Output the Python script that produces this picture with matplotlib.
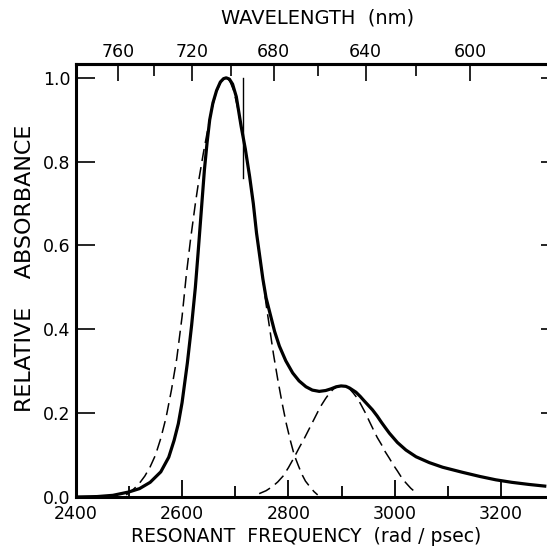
import numpy as np
import matplotlib
matplotlib.use('Agg')
from matplotlib import pyplot as plt
from matplotlib.ticker import MultipleLocator, NullFormatter, FixedLocator

# solid: measured absorbance
freq = [2400, 2440, 2470, 2500, 2520, 2540, 2560, 2575, 2585, 2593, 2600, 2610,
        2618, 2625, 2630, 2636, 2642, 2647, 2652, 2658, 2665, 2672, 2678, 2683,
        2689, 2695, 2702, 2711, 2719, 2727, 2734, 2740, 2746, 2752, 2758, 2765,
        2774, 2783, 2795, 2808, 2820, 2833, 2845, 2858, 2870, 2880, 2890, 2899,
        2908, 2915, 2927, 2935, 2942, 2950, 2958, 2967, 2975, 2983, 2990, 3005,
        3021, 3040, 3065, 3090, 3127, 3160, 3190, 3220, 3252, 3282]
absorb = [0.0, 0.001, 0.004, 0.012, 0.02, 0.035, 0.06, 0.095, 0.135, 0.175, 0.225, 0.32,
          0.41, 0.50, 0.58, 0.68, 0.78, 0.845, 0.90, 0.94, 0.97, 0.99, 0.998, 1.0,
          0.997, 0.985, 0.955, 0.885, 0.83, 0.765, 0.70, 0.63, 0.575, 0.52, 0.475, 0.44,
          0.395, 0.36, 0.325, 0.296, 0.277, 0.263, 0.255, 0.252, 0.254, 0.258, 0.263, 0.265,
          0.264, 0.26, 0.25, 0.24, 0.23, 0.219, 0.208, 0.193, 0.178, 0.164, 0.152, 0.13,
          0.112, 0.096, 0.082, 0.071, 0.059, 0.049, 0.041, 0.035, 0.030, 0.026]

# dashed: first component
freq1 = [2495, 2510, 2520, 2530, 2540, 2550, 2560, 2570, 2580, 2590, 2600, 2608,
         2616, 2625, 2632, 2640, 2648, 2655, 2662, 2670, 2676, 2683, 2690, 2697,
         2704, 2711, 2719, 2727, 2734, 2740, 2746, 2752, 2758, 2765, 2772, 2780,
         2788, 2796, 2804, 2811, 2818, 2825, 2832, 2840, 2848, 2855]
comp1 = [0.005, 0.02, 0.033, 0.05, 0.072, 0.10, 0.14, 0.19, 0.255, 0.33, 0.43, 0.53,
         0.615, 0.70, 0.76, 0.82, 0.875, 0.92, 0.955, 0.983, 0.996, 1.00, 0.992, 0.97,
         0.932, 0.885, 0.828, 0.765, 0.70, 0.63, 0.575, 0.52, 0.46, 0.40, 0.34, 0.28,
         0.225, 0.175, 0.133, 0.10, 0.077, 0.055, 0.038, 0.025, 0.013, 0.005]

# dashed: second component
freq2 = [2745, 2758, 2770, 2780, 2790, 2800, 2811, 2820, 2830, 2840, 2850, 2860,
         2870, 2878, 2885, 2892, 2900, 2907, 2915, 2922, 2930, 2937, 2945, 2952,
         2960, 2967, 2975, 2982, 2990, 2997, 3005, 3012, 3020, 3030, 3040]
comp2 = [0.008, 0.015, 0.025, 0.036, 0.05, 0.07, 0.095, 0.117, 0.14, 0.165, 0.19, 0.215,
         0.235, 0.249, 0.258, 0.263, 0.265, 0.263, 0.258, 0.248, 0.235, 0.219, 0.20, 0.181,
         0.16, 0.142, 0.125, 0.108, 0.092, 0.077, 0.062, 0.048, 0.035, 0.021, 0.01]

laser_freq = 2715  # ruby line, 694.3 nm
wl_major = [760, 720, 680, 640, 600]
wl_minor = [740, 700, 660, 620]


def conv(v):
    # nm <-> rad/psec (same formula both ways)
    v = np.asarray(v, dtype=float)
    with np.errstate(divide='ignore'):
        return 2 * np.pi * 3e5 / v


plt.rcParams['font.family'] = ['DejaVu Sans']
fig = plt.figure(figsize=(5.47, 5.46), dpi=100)
ax = fig.add_axes([75.7 / 547, 49 / 546, (549 - 75.7) / 547, (497 - 64) / 546])

ax.plot(freq, absorb, color='black', lw=2.3, solid_joinstyle='round')
ax.plot(freq1, comp1, color='black', lw=1.1, dashes=(8, 4))
ax.plot(freq2, comp2, color='black', lw=1.1, dashes=(8, 4))
ax.plot([laser_freq, laser_freq], [0.76, 1.0], color='black', lw=1.0)

ax.set_xlim(2400, 3290)
ax.set_ylim(0, 1.033)

ax.xaxis.set_major_locator(MultipleLocator(200))
ax.xaxis.set_minor_locator(MultipleLocator(100))
ax.yaxis.set_major_locator(MultipleLocator(0.2))
ax.yaxis.set_major_formatter(plt.FuncFormatter(lambda v, p: '%.1f' % v))
ax.tick_params(axis='x', which='major', direction='in', length=12.5, width=1.3,
               labelsize=12.5, pad=6)
ax.tick_params(axis='x', which='minor', direction='in', length=8, width=1.3)
ax.tick_params(axis='y', which='major', direction='in', length=13.5, width=1.2,
               labelsize=12.5, pad=4)

# top axis in wavelength
top = ax.secondary_xaxis('top', functions=(conv, conv))
top.xaxis.set_major_locator(FixedLocator(wl_major))
top.xaxis.set_minor_locator(FixedLocator(wl_minor))
top.xaxis.set_minor_formatter(NullFormatter())
top.tick_params(axis='x', which='major', direction='in', length=12, width=1.2,
                labelsize=12.5, pad=2)
top.tick_params(axis='x', which='minor', direction='in', length=8.5, width=1.2)

# short ticks on the right
right = ax.secondary_yaxis('right')
right.yaxis.set_major_locator(MultipleLocator(0.2))
right.tick_params(direction='in', length=6, width=1.2, labelright=False)

for a in (ax, top, right):
    for s in a.spines.values():
        s.set_linewidth(2.2)

fig.text(306 / 547, 1 - 537 / 546, 'RESONANT  FREQUENCY  (rad / psec)', ha='center',
         va='center', fontsize=13.5)
fig.text(318 / 547, 1 - 18 / 546, 'WAVELENGTH  (nm)', ha='center', va='center',
         fontsize=14)
fig.text(25 / 547, 1 - 268 / 546, 'RELATIVE    ABSORBANCE', ha='center', va='center',
         rotation=90, fontsize=16)

fig.savefig('out.png', dpi=100)
